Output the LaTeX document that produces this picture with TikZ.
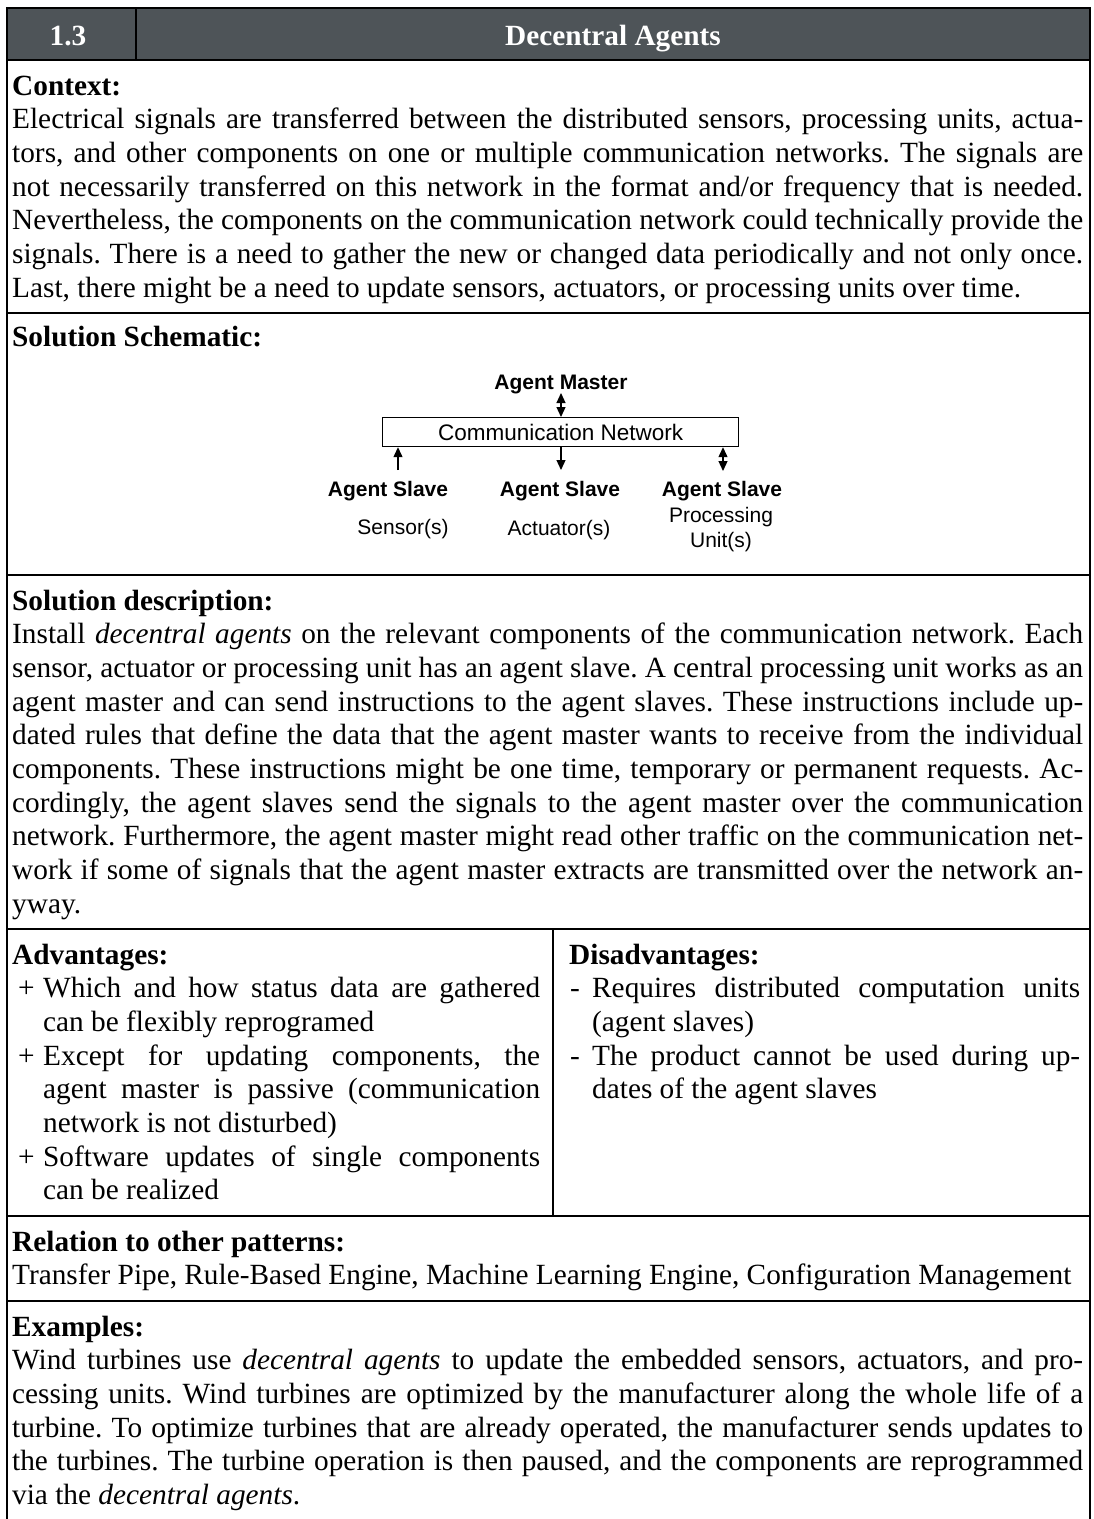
\documentclass[tikz,border=0pt]{standalone}
\usepackage{fontspec}
\setmainfont{Liberation Serif}
\newfontfamily\schemfont{Liberation Sans}
\usetikzlibrary{arrows.meta}
\definecolor{hdrgray}{RGB}{78,84,88}
\frenchspacing
\newcommand\bodyfont{\fontsize{29.3}{33.7}\selectfont}
% a justified line of a given width
\newcommand\jline[2]{\makebox[#1][s]{#2}}
\newcommand\fullw{1071pt}
\newcommand\advw{497pt}
\newcommand\disw{488pt}

\begin{document}
\begin{tikzpicture}[x=1pt,y=-1pt,
  txt/.style={anchor=base west,inner sep=0pt,font=\bodyfont},
  head/.style={anchor=base west,inner sep=0pt,font=\bodyfont\bfseries},
  rule/.style={line width=2.6pt},
  thinrule/.style={line width=1.6pt},
  schem/.style={inner sep=0pt,font=\schemfont\fontsize{21}{24}\selectfont},
  schemb/.style={inner sep=0pt,font=\schemfont\bfseries\fontsize{21}{24}\selectfont},
  conn/.style={line width=1.2pt},
  onetip/.style={conn,-{Triangle[width=9pt,length=10pt]}},
  twotip/.style={conn,{Triangle[width=9pt,length=10pt]}-{Triangle[width=9pt,length=10pt]}}
]
\useasboundingbox (0,0) rectangle (1094,1519);

% ---- title bar ----
\fill[hdrgray] (7,8) rectangle (1090,60);
\node[anchor=base,inner sep=0pt,font=\bodyfont\bfseries,text=white] (num) at (68,45) {1.3};
\node[anchor=base,inner sep=0pt,font=\bodyfont\bfseries,text=white] (title) at (613,45) {Decentral Agents};

% ---- frame and rules ----
\draw[rule] (7,1519) -- (7,8) -- (1090,8) -- (1090,1519);
\draw[thinrule] (136,8) -- (136,60);
\draw[rule] (7,60) -- (1090,60);
\draw[rule] (7,313) -- (1090,313);
\draw[rule] (7,575) -- (1090,575);
\draw[rule] (7,929) -- (1090,929);
\draw[thinrule] (553,929) -- (553,1216);
\draw[rule] (7,1216) -- (1090,1216);
\draw[rule] (7,1301) -- (1090,1301);

% ---- context ----
\node[head] (ctxh) at (12,95) {Context:};
\node[txt] (c1) at (12,128.7) {\jline{\fullw}{Electrical signals are transferred between the distributed sensors, processing units, actua-}};
\node[txt] (c2) at (12,162.4) {\jline{\fullw}{tors, and other components on one or multiple communication networks. The signals are}};
\node[txt] (c3) at (12,196.1) {\jline{\fullw}{not necessarily transferred on this network in the format and/or frequency that is needed.}};
\node[txt] (c4) at (12,229.8) {\jline{\fullw}{Nevertheless, the components on the communication network could technically provide the}};
\node[txt] (c5) at (12,263.5) {\jline{\fullw}{signals. There is a need to gather the new or changed data periodically and not only once.}};
\node[txt] (c6) at (12,297.2) {Last, there might be a need to update sensors, actuators, or processing units over time.};

% ---- solution schematic ----
\node[head] (schh) at (12,346) {Solution Schematic:};
\node[schemb,anchor=base] (master) at (561,389) {Agent Master};
\node[draw,conn,minimum width=356pt,minimum height=29pt,inner sep=0pt,anchor=north west,
      font=\schemfont\fontsize{22.5}{26}\selectfont] (net) at (382,417) {Communication Network};
\node[schemb,anchor=base] (slave1) at (388,496) {Agent Slave};
\node[schemb,anchor=base] (slave2) at (560,496) {Agent Slave};
\node[schemb,anchor=base] (slave3) at (722,496) {Agent Slave};
\node[schem,anchor=base] (sensor) at (403,534) {Sensor(s)};
\node[schem,anchor=base] (actuator) at (559,535) {Actuator(s)};
\node[schem,anchor=base] (proc) at (721,522) {Processing};
\node[schem,anchor=base] (unit) at (721,547) {Unit(s)};
\coordinate (m0) at (561,393);
\coordinate (s1) at (398,470);
\coordinate (s2) at (561,470);
\coordinate (s3) at (723,471);
\draw[twotip] (m0) -- (m0 |- net.north);
\draw[onetip] (s1) -- (s1 |- net.south);
\draw[onetip] (s2 |- net.south) -- (s2);
\draw[twotip] (s3 |- net.south) -- (s3);

% ---- solution description ----
\node[head] (desch) at (12,610) {Solution description:};
\node[txt] (d1) at (12,643.7) {\jline{\fullw}{Install \emph{decentral agents} on the relevant components of the communication network. Each}};
\node[txt] (d2) at (12,677.4) {\jline{\fullw}{sensor, actuator or processing unit has an agent slave. A central processing unit works as an}};
\node[txt] (d3) at (12,711.1) {\jline{\fullw}{agent master and can send instructions to the agent slaves. These instructions include up-}};
\node[txt] (d4) at (12,744.8) {\jline{\fullw}{dated rules that define the data that the agent master wants to receive from the individual}};
\node[txt] (d5) at (12,778.5) {\jline{\fullw}{components. These instructions might be one time, temporary or permanent requests. Ac-}};
\node[txt] (d6) at (12,812.2) {\jline{\fullw}{cordingly, the agent slaves send the signals to the agent master over the communication}};
\node[txt] (d7) at (12,845.9) {\jline{\fullw}{network. Furthermore, the agent master might read other traffic on the communication net-}};
\node[txt] (d8) at (12,879.6) {\jline{\fullw}{work if some of signals that the agent master extracts are transmitted over the network an-}};
\node[txt] (d9) at (12,913.3) {yway.};

% ---- advantages ----
\node[head] (advh) at (12,964) {Advantages:};
\node[txt] (ap1) at (18,997.7) {+};
\node[txt] (a1) at (43,997.7) {\jline{\advw}{Which and how status data are gathered}};
\node[txt] (a2) at (43,1031.4) {can be flexibly reprogramed};
\node[txt] (ap2) at (18,1065.1) {+};
\node[txt] (a3) at (43,1065.1) {\jline{\advw}{Except for updating components, the}};
\node[txt] (a4) at (43,1098.8) {\jline{\advw}{agent master is passive (communication}};
\node[txt] (a5) at (43,1132.5) {network is not disturbed)};
\node[txt] (ap3) at (18,1166.2) {+};
\node[txt] (a6) at (43,1166.2) {\jline{\advw}{Software updates of single components}};
\node[txt] (a7) at (43,1199.9) {can be realized};

% ---- disadvantages ----
\node[head] (dish) at (569,964) {Disadvantages:};
\node[txt] (dm1) at (570,997.7) {-};
\node[txt] (b1) at (592,997.7) {\jline{\disw}{Requires distributed computation units}};
\node[txt] (b2) at (592,1031.4) {(agent slaves)};
\node[txt] (dm2) at (570,1065.1) {-};
\node[txt] (b3) at (592,1065.1) {\jline{\disw}{The product cannot be used during up-}};
\node[txt] (b4) at (592,1098.8) {dates of the agent slaves};

% ---- relations ----
\node[head] (relh) at (12,1251) {Relation to other patterns:};
\node[txt] (r1) at (12,1284.7) {Transfer Pipe, Rule-Based Engine, Machine Learning Engine, Configuration Management};

% ---- examples ----
\node[head] (exh) at (12,1336) {Examples:};
\node[txt] (e1) at (12,1369.7) {\jline{\fullw}{Wind turbines use \emph{decentral agents} to update the embedded sensors, actuators, and pro-}};
\node[txt] (e2) at (12,1403.4) {\jline{\fullw}{cessing units. Wind turbines are optimized by the manufacturer along the whole life of a}};
\node[txt] (e3) at (12,1437.1) {\jline{\fullw}{turbine. To optimize turbines that are already operated, the manufacturer sends updates to}};
\node[txt] (e4) at (12,1470.8) {\jline{\fullw}{the turbines. The turbine operation is then paused, and the components are reprogrammed}};
\node[txt] (e5) at (12,1504.5) {via the \emph{decentral agents}.};
\end{tikzpicture}
\end{document}
